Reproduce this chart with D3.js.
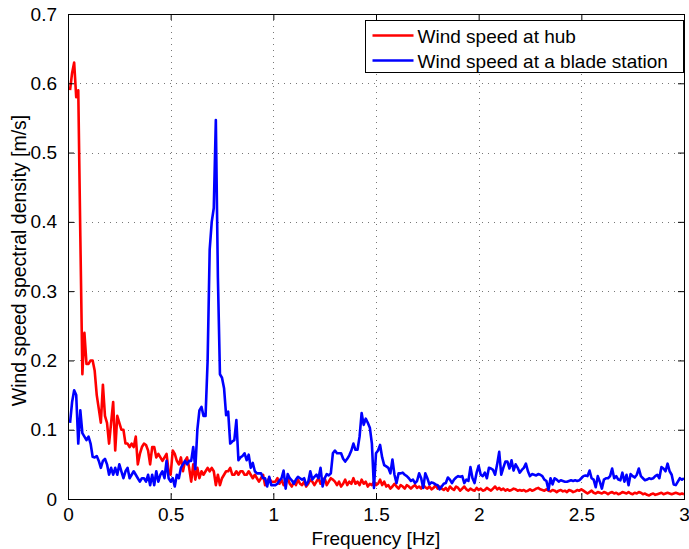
<!DOCTYPE html>
<html>
<head>
<meta charset="utf-8">
<script src="https://cdn.jsdelivr.net/npm/d3@7"></script>
<style>
  body { margin: 0; background: #fff; }
  svg { display: block; font-family: "Liberation Sans", Arial, sans-serif; }
</style>
</head>
<body>
<svg id="svg"></svg>
<script>
// spectral densities sampled every 0.01 Hz, from 0.01 to 3.00 Hz
const freqStep = 0.01;

const hubValues = [
  0.59, 0.615, 0.63, 0.58, 0.59, 0.38, 0.18, 0.24, 0.195, 0.195,
  0.20, 0.20, 0.185, 0.15, 0.13, 0.11, 0.165, 0.12, 0.11, 0.08,
  0.11, 0.14, 0.07, 0.12, 0.11, 0.10, 0.10, 0.08, 0.08, 0.075,
  0.08, 0.075, 0.09, 0.05, 0.065, 0.075, 0.08, 0.078, 0.07, 0.05,
  0.075, 0.075, 0.06, 0.065, 0.06, 0.055, 0.06, 0.065, 0.04, 0.035,
  0.07, 0.065, 0.055, 0.05, 0.06, 0.04, 0.055, 0.06, 0.045, 0.025,
  0.05, 0.028, 0.045, 0.03, 0.04, 0.035, 0.04, 0.045, 0.04, 0.045,
  0.04, 0.02, 0.035, 0.02, 0.03, 0.035, 0.04, 0.04, 0.045, 0.035,
  0.035, 0.04, 0.035, 0.04, 0.04, 0.035, 0.035, 0.04, 0.035, 0.03,
  0.035, 0.03, 0.025, 0.03, 0.035, 0.02, 0.025, 0.03, 0.025, 0.025,
  0.025, 0.03, 0.022, 0.028, 0.02, 0.025, 0.03, 0.022, 0.018, 0.025,
  0.02, 0.028, 0.022, 0.02, 0.025, 0.018, 0.022, 0.028, 0.025, 0.02,
  0.025, 0.03, 0.022, 0.028, 0.03, 0.02, 0.025, 0.03, 0.028, 0.025,
  0.02, 0.025, 0.018, 0.022, 0.028, 0.02, 0.025, 0.022, 0.03, 0.022,
  0.025, 0.02, 0.028, 0.022, 0.025, 0.018, 0.022, 0.02, 0.025, 0.02,
  0.022, 0.028, 0.02, 0.025, 0.018, 0.02, 0.015, 0.018, 0.022, 0.018,
  0.015, 0.02, 0.018, 0.015, 0.02, 0.018, 0.015, 0.018, 0.02, 0.016,
  0.018, 0.015, 0.02, 0.017, 0.015, 0.018, 0.014, 0.016, 0.02, 0.015,
  0.018, 0.015, 0.013, 0.016, 0.012, 0.018, 0.015, 0.013, 0.018, 0.016,
  0.012, 0.015, 0.018, 0.014, 0.012, 0.015, 0.013, 0.012, 0.016, 0.013,
  0.015, 0.012, 0.013, 0.016, 0.014, 0.012, 0.015, 0.018, 0.014, 0.016,
  0.013, 0.015, 0.012, 0.014, 0.012, 0.013, 0.015, 0.014, 0.012, 0.013,
  0.012, 0.013, 0.011, 0.012, 0.014, 0.012, 0.013, 0.015, 0.016, 0.014,
  0.013, 0.012, 0.014, 0.012, 0.011, 0.013, 0.012, 0.01, 0.012, 0.013,
  0.011, 0.012, 0.01, 0.013, 0.012, 0.01, 0.011, 0.013, 0.012, 0.014,
  0.012, 0.01, 0.008, 0.01, 0.012, 0.009, 0.008, 0.01, 0.009, 0.008,
  0.01, 0.009, 0.007, 0.009, 0.01, 0.008, 0.009, 0.007, 0.008, 0.01,
  0.009, 0.008, 0.01, 0.008, 0.007, 0.009, 0.008, 0.01, 0.009, 0.007,
  0.008, 0.006, 0.005, 0.007, 0.008, 0.006, 0.007, 0.008, 0.009, 0.007,
  0.008, 0.009, 0.008, 0.007, 0.008, 0.009, 0.008, 0.007, 0.008, 0.007
];

const bladeValues = [
  0.11, 0.14, 0.157, 0.15, 0.08, 0.128, 0.095, 0.09, 0.085, 0.09,
  0.08, 0.061, 0.06, 0.062, 0.055, 0.045, 0.055, 0.058, 0.05, 0.035,
  0.045, 0.035, 0.045, 0.035, 0.05, 0.04, 0.03, 0.04, 0.045, 0.03,
  0.035, 0.04, 0.035, 0.03, 0.025, 0.03, 0.03, 0.025, 0.035, 0.02,
  0.035, 0.02, 0.04, 0.025, 0.035, 0.04, 0.03, 0.055, 0.03, 0.025,
  0.03, 0.018, 0.035, 0.03, 0.045, 0.05, 0.055, 0.05, 0.055, 0.055,
  0.075, 0.043, 0.10, 0.128, 0.133, 0.12, 0.12, 0.20, 0.36, 0.40,
  0.42, 0.547, 0.32, 0.18, 0.175, 0.16, 0.121, 0.126, 0.08, 0.083,
  0.085, 0.114, 0.056, 0.06, 0.062, 0.066, 0.056, 0.064, 0.045, 0.052,
  0.04, 0.037, 0.037, 0.037, 0.03, 0.03, 0.018, 0.032, 0.02, 0.02,
  0.02, 0.022, 0.027, 0.03, 0.041, 0.015, 0.036, 0.03, 0.027, 0.022,
  0.028, 0.032, 0.03, 0.028, 0.03, 0.02, 0.025, 0.04, 0.028, 0.032,
  0.035, 0.03, 0.045, 0.018, 0.03, 0.036, 0.034, 0.037, 0.066, 0.07,
  0.066, 0.066, 0.066, 0.058, 0.054, 0.058, 0.063, 0.07, 0.08, 0.071,
  0.071, 0.09, 0.124, 0.107, 0.116, 0.11, 0.103, 0.08, 0.016, 0.066,
  0.07, 0.078, 0.06, 0.049, 0.047, 0.045, 0.037, 0.057, 0.035, 0.023,
  0.037, 0.037, 0.038, 0.035, 0.033, 0.03, 0.026, 0.028, 0.023, 0.026,
  0.037, 0.03, 0.016, 0.037, 0.03, 0.021, 0.024, 0.023, 0.021, 0.02,
  0.014, 0.018, 0.022, 0.023, 0.031, 0.028, 0.023, 0.028, 0.031, 0.033,
  0.032, 0.033, 0.023, 0.028, 0.026, 0.046, 0.03, 0.023, 0.038, 0.048,
  0.035, 0.033, 0.038, 0.03, 0.045, 0.044, 0.042, 0.035, 0.05, 0.068,
  0.035, 0.045, 0.054, 0.054, 0.044, 0.056, 0.041, 0.05, 0.045, 0.038,
  0.042, 0.045, 0.051, 0.04, 0.033, 0.036, 0.035, 0.034, 0.036, 0.035,
  0.033, 0.028, 0.026, 0.013, 0.03, 0.021, 0.03, 0.028, 0.025, 0.027,
  0.026, 0.025, 0.025, 0.026, 0.027, 0.026, 0.027, 0.026, 0.027, 0.03,
  0.033, 0.034, 0.033, 0.041, 0.03, 0.028, 0.017, 0.033, 0.025, 0.015,
  0.028, 0.03, 0.03, 0.033, 0.044, 0.03, 0.033, 0.028, 0.027, 0.038,
  0.025, 0.035, 0.02, 0.036, 0.033, 0.031, 0.035, 0.044, 0.033, 0.03,
  0.027, 0.028, 0.03, 0.029, 0.03, 0.033, 0.035, 0.03, 0.046, 0.044,
  0.04, 0.051, 0.04, 0.035, 0.021, 0.02, 0.025, 0.03, 0.028, 0.03
];

const seriesNames = ["Wind speed at hub", "Wind speed at a blade station"];
const seriesColors = ["#ff0000", "#0000ff"];

const xTicks = [0, 0.5, 1, 1.5, 2, 2.5, 3];
const xTickLabels = ["0", "0.5", "1", "1.5", "2", "2.5", "3"];
const yTicks = [0, 0.1, 0.2, 0.3, 0.4, 0.5, 0.6, 0.7];
const yTickLabels = ["0", "0.1", "0.2", "0.3", "0.4", "0.5", "0.6", "0.7"];

const w = 689;
const h = 549;
const margin = {top: 14, right: 5, bottom: 50, left: 68};
const iw = w - margin.left - margin.right;
const ih = h - margin.top - margin.bottom;

const svg = d3.select("#svg")
  .attr("width", w)
  .attr("height", h);

svg.append("rect").attr("width", w).attr("height", h).attr("fill", "#fff");

const g = svg.append("g").attr("transform", `translate(${margin.left},${margin.top})`);

const x = d3.scaleLinear().domain([0, 3]).range([0, iw]);
const y = d3.scaleLinear().domain([0, 0.7]).range([ih, 0]);

// dotted grid
const grid = g.append("g")
  .attr("stroke", "#777")
  .attr("stroke-width", 1)
  .attr("stroke-dasharray", "1,5");
grid.selectAll(".gx")
  .data(xTicks.slice(1, -1))
  .enter().append("line")
  .attr("x1", d => Math.round(x(d)) + 0.5).attr("x2", d => Math.round(x(d)) + 0.5)
  .attr("y1", 0).attr("y2", ih);
grid.selectAll(".gy")
  .data(yTicks.slice(1, -1))
  .enter().append("line")
  .attr("y1", d => Math.round(y(d)) + 0.5).attr("y2", d => Math.round(y(d)) + 0.5)
  .attr("x1", 0).attr("x2", iw);

// series
const line = d3.line()
  .x((d, i) => x((i + 1) * freqStep))
  .y(d => y(d));

[hubValues, bladeValues].forEach(function(vals, k) {
  g.append("path")
    .datum(vals)
    .attr("fill", "none")
    .attr("stroke", seriesColors[k])
    .attr("stroke-width", 2.6)
    .attr("stroke-linejoin", "round")
    .attr("d", line);
});

// axes with inward ticks on all sides
const fmtX = (d, i) => xTickLabels[i];
const fmtY = (d, i) => yTickLabels[i];

const xAxis = g.append("g")
  .attr("transform", `translate(0,${ih})`)
  .call(d3.axisBottom(x).tickValues(xTicks).tickFormat(fmtX).tickSizeInner(-6).tickSizeOuter(0).tickPadding(9));
const yAxis = g.append("g")
  .call(d3.axisLeft(y).tickValues(yTicks).tickFormat(fmtY).tickSizeInner(-6).tickSizeOuter(0).tickPadding(11));
const xTop = g.append("g")
  .call(d3.axisTop(x).tickValues(xTicks).tickFormat("").tickSizeInner(-6).tickSizeOuter(0));
const yRight = g.append("g")
  .attr("transform", `translate(${iw},0)`)
  .call(d3.axisRight(y).tickValues(yTicks).tickFormat("").tickSizeInner(-6).tickSizeOuter(0));

[xAxis, yAxis, xTop, yRight].forEach(function(a) {
  a.select(".domain").remove();
  a.selectAll("line").attr("stroke", "#000");
  a.selectAll("text")
    .attr("fill", "#000")
    .style("font-size", "19px")
    .style("font-family", "'Liberation Sans', Arial, sans-serif");
});

g.append("rect")
  .attr("x", 0.5).attr("y", 0.5)
  .attr("width", iw).attr("height", ih)
  .attr("fill", "none")
  .attr("stroke", "#000")
  .attr("stroke-width", 1);

// axis titles
svg.append("text")
  .attr("x", margin.left + iw / 2)
  .attr("y", 545)
  .attr("text-anchor", "middle")
  .style("font-size", "19px")
  .text("Frequency [Hz]");

svg.append("text")
  .attr("transform", `translate(26,${margin.top + ih / 2 + 4}) rotate(-90)`)
  .attr("text-anchor", "middle")
  .style("font-size", "19.5px")
  .text("Wind speed spectral density [m/s]");

// legend
const legend = svg.append("g").attr("transform", "translate(365.5,20.5)");
legend.append("rect")
  .attr("width", 318).attr("height", 52)
  .attr("fill", "#fff")
  .attr("stroke", "#000");
seriesNames.forEach(function(name, k) {
  const ly = 15 + k * 25;
  legend.append("line")
    .attr("x1", 7).attr("x2", 48)
    .attr("y1", ly).attr("y2", ly)
    .attr("stroke", seriesColors[k])
    .attr("stroke-width", 2.6);
  legend.append("text")
    .attr("x", 52).attr("y", ly + 7)
    .style("font-size", "19px")
    .text(name);
});
</script>
</body>
</html>
